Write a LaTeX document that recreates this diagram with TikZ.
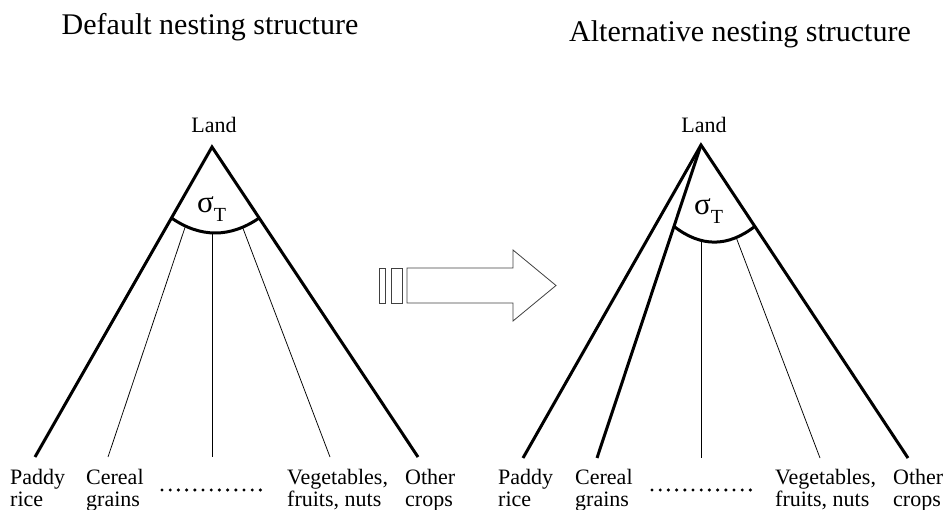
\documentclass[tikz,border=0pt]{standalone}
\usepackage{fontspec}
\setmainfont{Liberation Serif}
\usetikzlibrary{positioning,calc}

\begin{document}
\begin{tikzpicture}[x=1pt,y=-1pt,
    lbl/.style={font=\fontsize{22}{22}\selectfont, inner sep=0pt},
    leaf/.style={lbl, align=left, anchor=north west},
    ttl/.style={font=\fontsize{30}{30}\selectfont, inner sep=0pt, anchor=base},
    sig/.style={font=\fontsize{31}{31}\selectfont, inner sep=0pt, anchor=base west},
    leg/.style={line width=3pt},
    cut/.style={line width=3pt},
    twig/.style={line width=0.75pt},
    dotrow/.style={line width=3.4pt, line cap=round, dash pattern=on 0pt off 8.2pt},
    stripe/.style={line width=0.8pt, draw=black!75}
  ]
    \useasboundingbox (0,0) rectangle (943,510);

    % titles
    \node[ttl] (ltitle) at (210,35) {Default nesting structure};
    \node[ttl] (rtitle) at (740,42) {Alternative nesting structure};

    % left tree: default nesting
    \coordinate (lapex) at (212,147);
    \coordinate (lpaddy) at (35,457);
    \coordinate (lcereal) at (108,457);
    \coordinate (lmid) at (212,457);
    \coordinate (lveg) at (330,457);
    \coordinate (lother) at (418,457);
    \node[lbl, anchor=base, above=14pt of lapex, xshift=2pt] (lland) {Land};
    \draw[leg] (lpaddy) -- (lapex) -- (lother);
    \coordinate (larcl) at ($(lapex)!0.229!(lpaddy)$);
    \coordinate (larcr) at ($(lapex)!0.229!(lother)$);
    \draw[cut] (larcl) .. controls +(29,20) and +(-29,20) .. (larcr);
    \draw[twig] ($(lapex)!0.255!(lcereal)$) -- (lcereal);
    \draw[twig] ($(lapex)!0.277!(lmid)$) -- (lmid);
    \draw[twig] ($(lapex)!0.26!(lveg)$) -- (lveg);
    \node[sig] (lsig) at (197,213) {σ\raisebox{-9pt}{\fontsize{20}{20}\selectfont T}};

    \node[leaf] (lpaddyl) at (10,469) {Paddy\\rice};
    \node[leaf] (lcereall) at (86,469) {Cereal\\grains};
    \coordinate (ldotl) at (162,490);
    \coordinate (ldotr) at (261,490);
    \draw[dotrow] (ldotl) -- (ldotr);
    \node[leaf] (lvegl) at (287,469) {Vegetables,\\fruits, nuts};
    \node[leaf] (lotherl) at (405,469) {Other\\crops};

    % striped block arrow
    \draw[stripe] (379,268) rectangle (385,303);
    \draw[stripe] (391,268) rectangle (402,303);
    \draw[stripe] (407,268) -- (513,268) -- (513,250) -- (556,285.5)
      -- (513,321) -- (513,303) -- (407,303) -- cycle;

    % right tree: alternative nesting
    \coordinate (rapex) at (701,145);
    \coordinate (rpaddy) at (523,458);
    \coordinate (rcereal) at (597,458);
    \coordinate (rmid) at (701,458);
    \coordinate (rveg) at (820,458);
    \coordinate (rother) at (908,458);
    \node[lbl, anchor=base, above=12pt of rapex, xshift=3pt] (rland) {Land};
    \draw[leg] (rpaddy) -- (rapex) -- (rother);
    \draw[leg] (rcereal) -- (rapex);
    \coordinate (rarcl) at ($(rapex)!0.26!(rcereal)$);
    \coordinate (rarcr) at ($(rapex)!0.26!(rother)$);
    \draw[cut] (rarcl) .. controls +(27,21) and +(-27,21) .. (rarcr);
    \draw[twig] ($(rapex)!0.309!(rmid)$) -- (rmid);
    \draw[twig] ($(rapex)!0.293!(rveg)$) -- (rveg);
    \node[sig] (rsig) at (694,215) {σ\raisebox{-9pt}{\fontsize{20}{20}\selectfont T}};

    \node[leaf] (rpaddyl) at (498,469) {Paddy\\rice};
    \node[leaf] (rcereall) at (575,469) {Cereal\\grains};
    \coordinate (rdotl) at (652,490);
    \coordinate (rdotr) at (751,490);
    \draw[dotrow] (rdotl) -- (rdotr);
    \node[leaf] (rvegl) at (775,469) {Vegetables,\\fruits, nuts};
    \node[leaf] (rotherl) at (893,469) {Other\\crops};
\end{tikzpicture}
\end{document}
